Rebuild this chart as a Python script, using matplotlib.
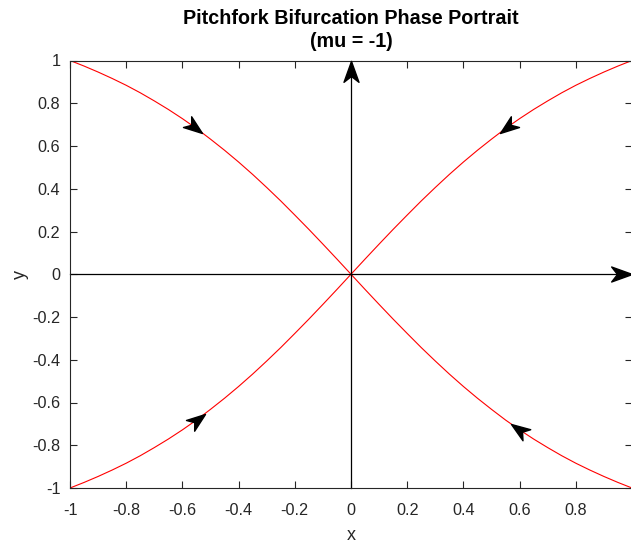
import numpy as np
import matplotlib.pyplot as plt
from matplotlib.path import Path
from matplotlib.markers import MarkerStyle
from matplotlib.transforms import Affine2D

plt.rcParams['font.family'] = ['Liberation Sans', 'DejaVu Sans']

# trajectories
x_vals = [-1.0, -0.95, -0.9, -0.85, -0.8, -0.75, -0.7, -0.65, -0.6, -0.55, -0.5,
          -0.45, -0.4, -0.35, -0.3, -0.25, -0.2, -0.15, -0.1, -0.05, 0.0,
          0.05, 0.1, 0.15, 0.2, 0.25, 0.3, 0.35, 0.4, 0.45, 0.5,
          0.55, 0.6, 0.65, 0.7, 0.75, 0.8, 0.85, 0.9, 0.95, 1.0]
y_rising = [-1.0, -0.974, -0.946, -0.916, -0.884, -0.849, -0.811, -0.771, -0.728, -0.682, -0.632,
            -0.580, -0.525, -0.467, -0.406, -0.343, -0.277, -0.210, -0.141, -0.071, 0.0,
            0.071, 0.141, 0.210, 0.277, 0.343, 0.406, 0.467, 0.525, 0.580, 0.632,
            0.682, 0.728, 0.771, 0.811, 0.849, 0.884, 0.916, 0.946, 0.974, 1.0]
y_falling = [1.0, 0.974, 0.946, 0.916, 0.884, 0.849, 0.811, 0.771, 0.728, 0.682, 0.632,
             0.580, 0.525, 0.467, 0.406, 0.343, 0.277, 0.210, 0.141, 0.071, 0.0,
             -0.071, -0.141, -0.210, -0.277, -0.343, -0.406, -0.467, -0.525, -0.580, -0.632,
             -0.682, -0.728, -0.771, -0.811, -0.849, -0.884, -0.916, -0.946, -0.974, -1.0]

# arrow heads on the trajectories (x position, which curve)
arrow_x = [-0.53, 0.53, -0.52, 0.57]
arrow_curve = ['falling', 'rising', 'rising', 'falling']

xticks = [-1, -0.8, -0.6, -0.4, -0.2, 0, 0.2, 0.4, 0.6, 0.8]
yticks = [-1, -0.8, -0.6, -0.4, -0.2, 0, 0.2, 0.4, 0.6, 0.8, 1]

gray = '#262626'
fig = plt.figure(figsize=(6.31, 5.43), dpi=100)
ax = fig.add_axes([70/631, 55/543, 562/631, 427.5/543])

ax.plot(x_vals, y_rising, color='red', lw=0.8)
ax.plot(x_vals, y_falling, color='red', lw=0.8)

ax.set_xlim(-1, 1)
ax.set_ylim(-1, 1)
ax.set_xticks(xticks)
ax.set_xticklabels(['%g' % t for t in xticks])
ax.set_yticks(yticks)
ax.set_yticklabels(['%g' % t for t in yticks])
ax.tick_params(direction='in', length=5, width=0.8, colors=gray, labelsize=11.7,
               top=True, right=True)
ax.tick_params(axis='x', pad=10.5)
ax.tick_params(axis='y', pad=7)
for s in ax.spines.values():
    s.set_color(gray)
    s.set_linewidth(0.8)

ax.set_xlabel('x', fontsize=13, color=gray, labelpad=6.5)
ax.set_ylabel('y', fontsize=13, color=gray, labelpad=2.5)
ax.set_title('Pitchfork Bifurcation Phase Portrait\n(mu = -1)', fontsize=14.2,
             fontweight='bold', color='black', pad=9.5, linespacing=1.3)

# stealth style arrow head, tip at origin pointing +x
head = Path([(0, 0), (-1, 0.36), (-0.72, 0), (-1, -0.36), (0, 0)],
            [Path.MOVETO, Path.LINETO, Path.LINETO, Path.LINETO, Path.CLOSEPOLY])


def draw_head(x, y, dx, dy, size=27):
    p0 = ax.transData.transform((x, y))
    p1 = ax.transData.transform((x + dx, y + dy))
    ang = np.degrees(np.arctan2(p1[1] - p0[1], p1[0] - p0[0]))
    m = MarkerStyle(head, transform=Affine2D().rotate_deg(ang))
    ax.plot([x], [y], marker=m, markersize=size, color='black', ls='none',
            clip_on=False, zorder=5)


# axis arrows
ax.plot([-1, 1], [0, 0], color='black', lw=0.9, clip_on=False)
ax.plot([0, 0], [-1, 1], color='black', lw=0.9, clip_on=False)
draw_head(1, 0, 1, 0, size=30)
draw_head(0, 1, 0, 1, size=30)

for xa, cname in zip(arrow_x, arrow_curve):
    ys = y_rising if cname == 'rising' else y_falling
    ya = np.interp(xa, x_vals, ys)
    # direction toward the origin along the curve
    step = -0.02 * np.sign(xa)
    yb = np.interp(xa + step, x_vals, ys)
    draw_head(xa, ya, step, yb - ya)

fig.savefig('out.png', dpi=100)
